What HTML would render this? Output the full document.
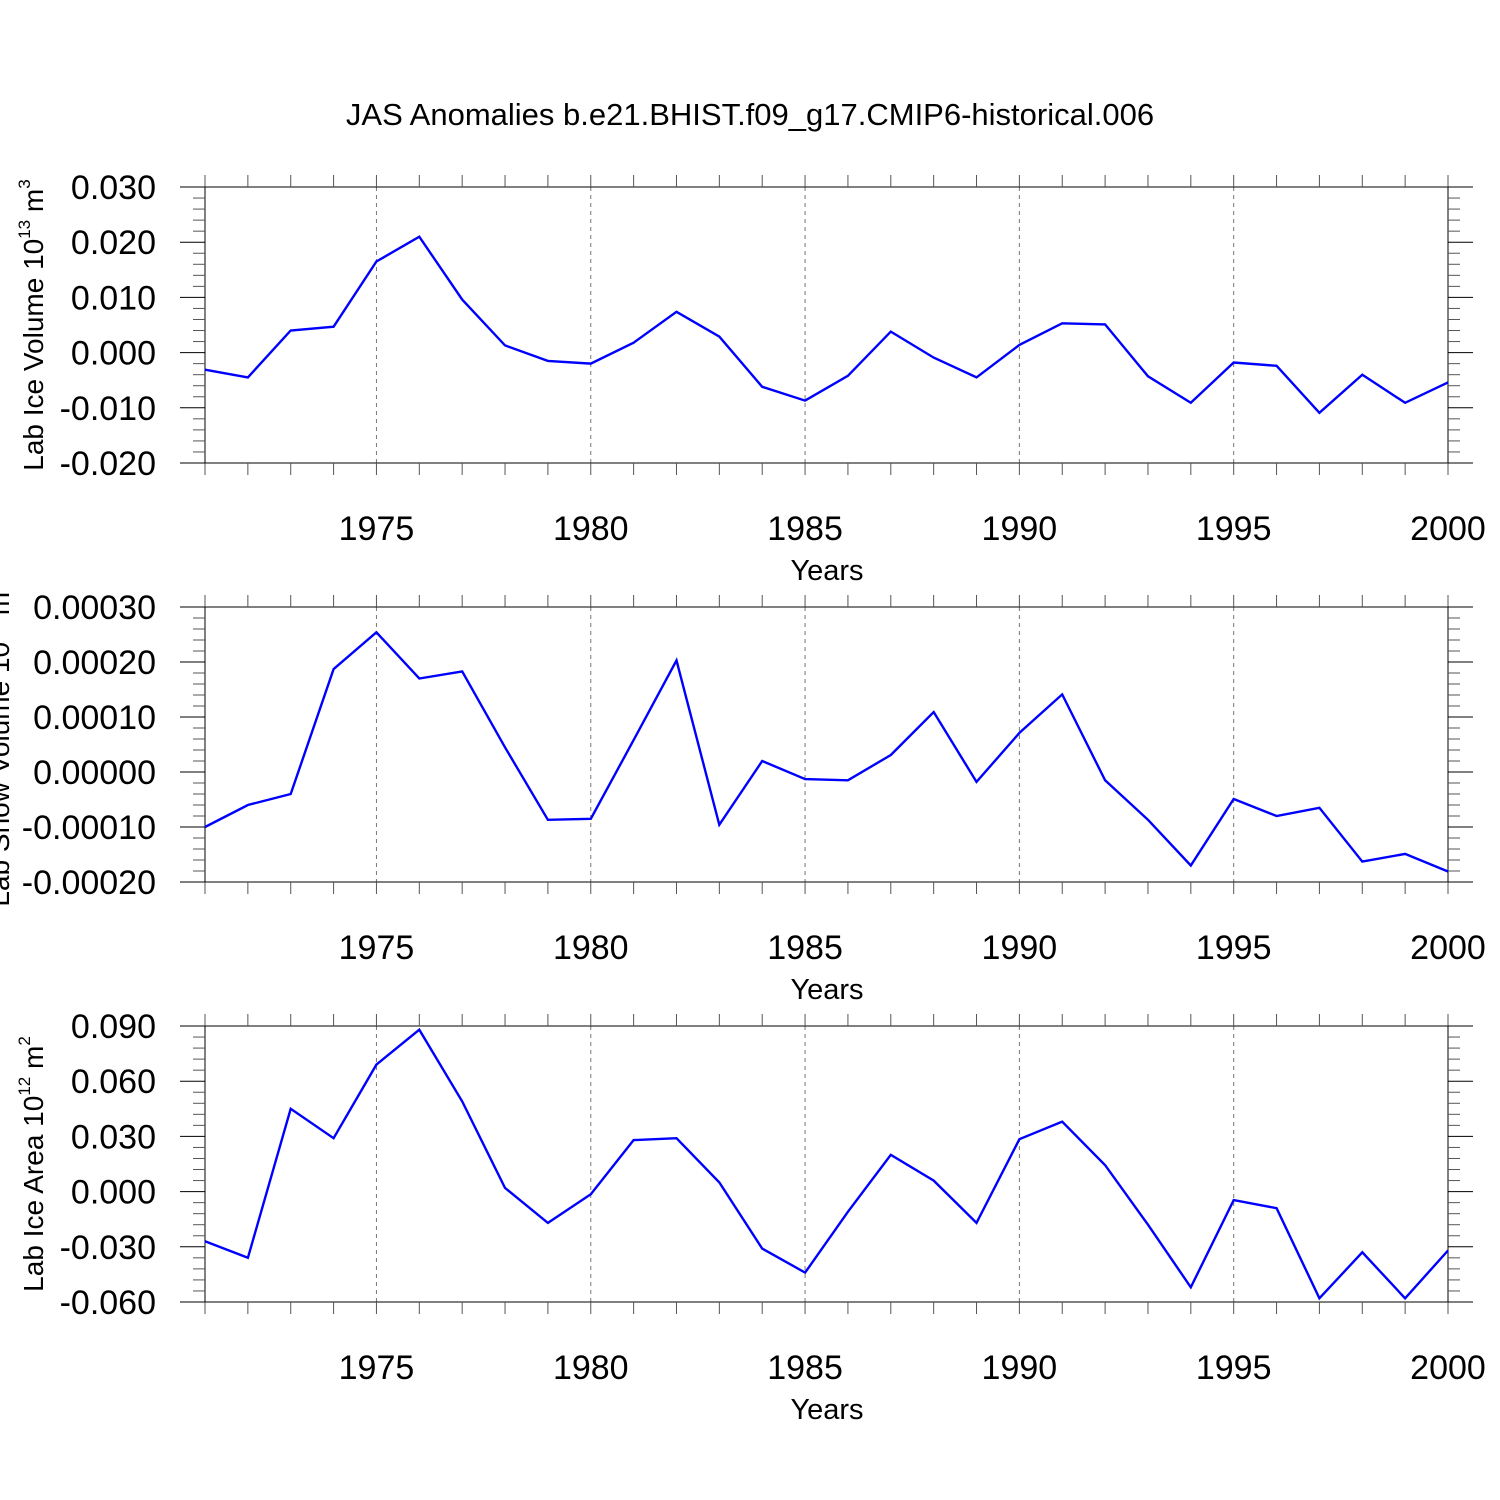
<!DOCTYPE html>
<html><head><meta charset="utf-8"><style>
html,body{margin:0;padding:0;background:#fff;}
svg{display:block;font-family:"Liberation Sans",Arial,sans-serif;}
</style></head><body>
<svg id="chart" width="1500" height="1500" viewBox="0 0 1500 1500" xmlns="http://www.w3.org/2000/svg">
<rect width="1500" height="1500" fill="#fff"/>
<text x="750" y="125" text-anchor="middle" font-size="31">JAS Anomalies b.e21.BHIST.f09_g17.CMIP6-historical.006</text>
</svg>
<script>
const years = [1971,1972,1973,1974,1975,1976,1977,1978,1979,1980,1981,1982,1983,1984,1985,1986,1987,1988,1989,1990,1991,1992,1993,1994,1995,1996,1997,1998,1999,2000];
const iceVolume = [-0.0031,-0.0045,0.0040,0.0047,0.0165,0.0210,0.0096,0.0013,-0.0015,-0.0020,0.0018,0.0074,0.0029,-0.0062,-0.0087,-0.0042,0.0038,-0.0009,-0.0045,0.0014,0.0053,0.0051,-0.0043,-0.0091,-0.0018,-0.0024,-0.0109,-0.0040,-0.0091,-0.0054];
const snowVolume = [-0.000100,-0.000060,-0.000040,0.000187,0.000254,0.000170,0.000183,0.000045,-0.000087,-0.000085,0.000058,0.000203,-0.000096,0.000020,-0.000013,-0.000015,0.000031,0.000109,-0.000018,0.000071,0.000141,-0.000015,-0.000087,-0.000170,-0.000049,-0.000080,-0.000065,-0.000163,-0.000149,-0.000181];
const iceArea = [-0.027,-0.036,0.045,0.029,0.069,0.088,0.049,0.002,-0.017,-0.0014,0.028,0.029,0.005,-0.031,-0.044,-0.011,0.020,0.006,-0.017,0.0285,0.038,0.0144,-0.018,-0.052,-0.0046,-0.009,-0.058,-0.033,-0.058,-0.032];
const xTickYears = [1975,1980,1985,1990,1995,2000];
const ticks1 = ["0.030","0.020","0.010","0.000","-0.010","-0.020"];
const ticks2 = ["0.00030","0.00020","0.00010","0.00000","-0.00010","-0.00020"];
const ticks3 = ["0.090","0.060","0.030","0.000","-0.030","-0.060"];

const svg = document.getElementById('chart');
const NS = 'http://www.w3.org/2000/svg';
function mk(tag, attrs, parent){const e=document.createElementNS(NS,tag);for(const k in attrs)e.setAttribute(k,attrs[k]);(parent||svg).appendChild(e);return e;}
const X0=205, X1=1448;
function xs(y){return X0+(y-1971)*(X1-X0)/29;}

function panel(idx, top, bot, vmax, vmin, values, tickLabels, ylabel, labelX){
  const g = mk('g',{});
  
  
  function ys(v){return top+(vmax-v)*(bot-top)/(vmax-vmin);}
  for(const y of xTickYears){ if(y===2000) continue;
    const l=mk('line',{x1:xs(y),x2:xs(y),y1:top,y2:bot,stroke:'#777','stroke-width':1,'stroke-dasharray':'4,4'},g);
     
  }
  const fr=mk('rect',{x:X0,y:top,width:X1-X0,height:bot-top,fill:'none',stroke:'#000','stroke-width':1},g);
   
  for(let y=1971;y<=2000;y++){
    mk('line',{x1:xs(y),x2:xs(y),y1:top-12,y2:top,stroke:'#555','stroke-width':1},g);
    mk('line',{x1:xs(y),x2:xs(y),y1:bot,y2:bot+12,stroke:'#555','stroke-width':1},g);
  }
  const n=tickLabels.length-1, step=(bot-top)/n;
  for(let i=0;i<=n;i++){
    const yy=top+i*step;
    mk('line',{x1:X0-25,x2:X0,y1:yy,y2:yy,stroke:'#000','stroke-width':1},g);
    mk('line',{x1:X1,x2:X1+25,y1:yy,y2:yy,stroke:'#000','stroke-width':1},g);
    const t=mk('text',{x:156,y:yy+12,'text-anchor':'end','font-size':34},g);
    t.textContent=tickLabels[i];
     
    if(i<n) for(let k=1;k<5;k++){
      const ym=yy+k*step/5;
      mk('line',{x1:X0-12,x2:X0,y1:ym,y2:ym,stroke:'#555','stroke-width':1},g);
      mk('line',{x1:X1,x2:X1+12,y1:ym,y2:ym,stroke:'#555','stroke-width':1},g);
    }
  }
  for(const y of xTickYears){
    const t=mk('text',{x:xs(y),y:bot+77,'text-anchor':'middle','font-size':34},g);
    t.textContent=String(y);
     
  }
  const xt=mk('text',{x:827,y:bot+117,'text-anchor':'middle','font-size':29},g);
  xt.textContent='Years';
   
  const cy=(top+bot)/2;
  const yl=mk('text',{x:0,y:0,'text-anchor':'middle','font-size':28,transform:`translate(${labelX},${cy}) rotate(-90)`},g);
  yl.innerHTML=ylabel;
   
  const pts=values.map((v,i)=>xs(years[i]).toFixed(1)+','+ys(v).toFixed(1)).join(' ');
  const pl=mk('polyline',{points:pts,fill:'none',stroke:'#0000ff','stroke-width':2.4,'stroke-linejoin':'miter'},g);
   
}
panel(1,187,463,0.03,-0.02,iceVolume,ticks1,'Lab Ice Volume 10<tspan font-size="17" dy="-13">13</tspan><tspan dy="13"> m</tspan><tspan font-size="17" dy="-13">3</tspan>',43);
panel(2,607,882,0.0003,-0.0002,snowVolume,ticks2,'Lab Snow Volume 10<tspan font-size="17" dy="-13">13</tspan><tspan dy="13"> m</tspan><tspan font-size="17" dy="-13">3</tspan>',9);
panel(3,1026,1302,0.09,-0.06,iceArea,ticks3,'Lab Ice Area 10<tspan font-size="17" dy="-13">12</tspan><tspan dy="13"> m</tspan><tspan font-size="17" dy="-13">2</tspan>',43);
</script>
</body></html>
